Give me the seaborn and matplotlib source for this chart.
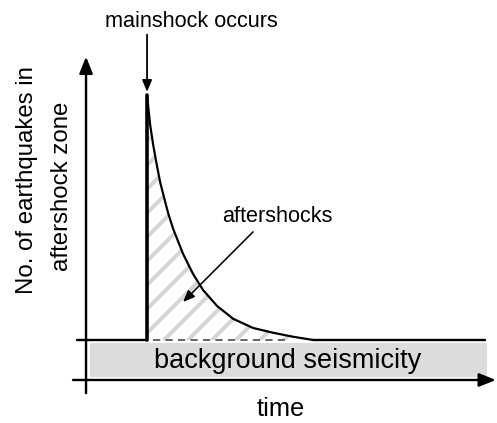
import matplotlib
matplotlib.use("Agg")
import matplotlib.pyplot as plt
import seaborn as sns

# -----------------------------
# Schematic values (time in arbitrary units, rate in units of background)
# -----------------------------
mainshock_time = 3.0
background_rate = 1.0
peak_rate = 7.12

pre_time = [-0.45, 3.0]
pre_rate = [1.0, 1.0]

after_time = [3.0, 3.15, 3.3, 3.45, 3.64, 3.84, 4.03, 4.28, 4.77, 5.26, 5.75,
              6.44, 7.23, 8.21, 9.2, 10.18, 11.16]
after_rate = [7.12, 6.38, 5.88, 5.45, 4.95, 4.55, 4.18, 3.78, 3.15, 2.65, 2.25,
              1.85, 1.53, 1.3, 1.18, 1.08, 1.0]

post_time = [11.16, 19.6]
post_rate = [1.0, 1.0]

dashed_time = [3.3, 10.0]
band_time = [0.2, 19.7]
band_rate = [0.075, 0.925]

# pixel mapping of the drawing: t=0 at x=86px, rate 0 at y=380px
PX_T = 61 / 3.0
PX_R = 40.0

sns.set_style("white")
plt.rcParams["font.family"] = ["Liberation Sans", "DejaVu Sans"]
plt.rcParams["text.color"] = "black"
plt.rcParams["hatch.linewidth"] = 4.0

fig = plt.figure(figsize=(497.2 / 72, 423.2 / 72), dpi=72)
ax = fig.add_axes([0, 0, 1, 1])
ax.set_xlim(-86 / PX_T, 411 / PX_T)
ax.set_ylim(-43 / PX_R, 380 / PX_R)
ax.axis("off")
renderer = fig.canvas.get_renderer()


def fit_text(x, y, s, length_px, rotation=0, **kw):
    """Place text and scale its font so it spans length_px pixels."""
    t = ax.text(x, y, s, fontsize=20, rotation=rotation, **kw)
    box = t.get_window_extent(renderer)
    size = box.height if rotation else box.width
    t.set_fontsize(20 * length_px / size)
    return t


# background band
ax.fill_between(band_time, band_rate[0], band_rate[1], color="#dcdcdc", lw=0)

# hatched aftershock excess
ax.fill_between(after_time, background_rate, after_rate, facecolor="white",
                edgecolor="#d6d6d6", hatch="/", linewidth=0)

# rate trace
sns.lineplot(x=pre_time, y=pre_rate, ax=ax, color="black", lw=2.4, sort=False)
sns.lineplot(x=[mainshock_time, mainshock_time], y=[background_rate, peak_rate],
             ax=ax, color="black", lw=3.6, sort=False, estimator=None)
sns.lineplot(x=after_time, y=after_rate, ax=ax, color="black", lw=2.2,
             sort=False, estimator=None)
sns.lineplot(x=post_time, y=post_rate, ax=ax, color="black", lw=2.4, sort=False)
sns.lineplot(x=dashed_time, y=[background_rate] * 2, ax=ax, color="#444444",
             lw=1.6, sort=False, linestyle=(0, (4.5, 3.3)))

# axes arrows
axis_arrow = dict(arrowstyle="-|>,head_length=0.7,head_width=0.28",
                  mutation_scale=20, lw=2.4, color="black", shrinkA=0, shrinkB=0)
ax.annotate("", xy=(0, 8.08), xytext=(0, -0.33), arrowprops=axis_arrow)
ax.annotate("", xy=(20.15, 0), xytext=(-0.64, 0), arrowprops=axis_arrow)

# mainshock arrow
ax.annotate("", xy=(mainshock_time, 7.2), xytext=(mainshock_time, 8.63),
            arrowprops=dict(arrowstyle="-|>,head_length=0.6,head_width=0.25",
                            mutation_scale=16, lw=1.8, color="black",
                            shrinkA=0, shrinkB=0))
fit_text(5.19, 8.83, "mainshock occurs", 173, ha="center", va="baseline")

# aftershocks label + arrow
fit_text(9.42, 3.95, "aftershocks", 111, ha="center", va="baseline")
ax.annotate("", xy=(4.77, 1.95), xytext=(8.21, 3.7),
            arrowprops=dict(arrowstyle="-|>,head_length=0.6,head_width=0.25",
                            mutation_scale=16, lw=1.6, color="black",
                            shrinkA=0, shrinkB=0))

fit_text(9.89, 0.3, "background seismicity", 267, ha="center", va="baseline")
fit_text(9.59, -0.9, "time", 48, ha="center", va="baseline")

# y label, two lines at one size
line1 = fit_text(-2.9, 5.0, "No. of earthquakes in", 228, rotation=90,
                 ha="center", va="center")
ax.text(-1.18, 4.85, "aftershock zone", fontsize=line1.get_fontsize(),
        rotation=90, ha="center", va="center")

fig.savefig("out.png", dpi=72)
